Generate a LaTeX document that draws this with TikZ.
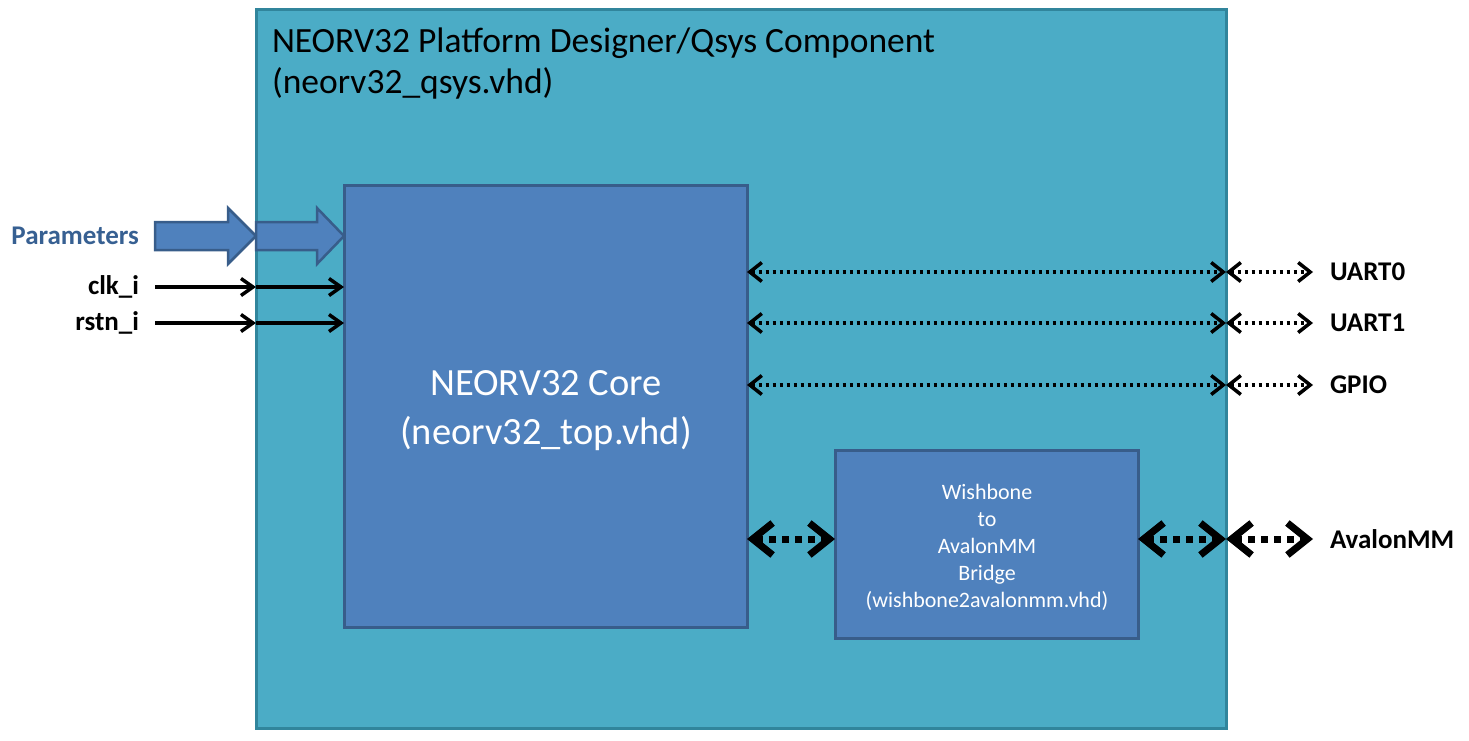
\documentclass[tikz,border=0pt]{standalone}
\usepackage{fontspec}
\setmainfont{Carlito}
\usetikzlibrary{arrows.meta}

\definecolor{qsysfill}{HTML}{4BACC6}
\definecolor{qsysline}{HTML}{31859C}
\definecolor{corefill}{HTML}{4F81BD}
\definecolor{coreline}{HTML}{385D8A}
\definecolor{paramtext}{HTML}{376092}

\begin{document}
\begin{tikzpicture}
  [
    x = 1pt, y = -1pt,
    every node/.style = {inner sep=0pt, outer sep=0pt},
    outerbox/.style = {draw=qsysline, fill=qsysfill, line width=3pt, anchor=north west},
    blockbox/.style = {draw=coreline, fill=corefill, line width=3pt, anchor=north west,
                       text=white, align=center},
    siglabel/.style = {font=\fontsize{27}{32}\selectfont\bfseries},
    sigline/.style = {line width=3.5pt, -{Straight Barb[length=12pt, width=17pt]}},
    dotsig/.style = {line width=3.5pt, dash pattern=on 3.5pt off 3.5pt,
                     {Straight Barb[length=12pt, width=19pt]}-{Straight Barb[length=12pt, width=19pt]}},
    bussig/.style = {line width=7pt, dash pattern=on 7pt off 6pt,
                     {Straight Barb[length=20pt, width=32pt]}-{Straight Barb[length=20pt, width=32pt]}},
    paramarrow/.style = {draw=coreline, fill=corefill, line width=2.5pt, line join=miter}
  ]
  \useasboundingbox (0,0) rectangle (1469,740);

  % component frame and blocks
  \node[outerbox, minimum width=970pt, minimum height=719pt] (qsys) at (256,9) {};
  \node[anchor=base west, align=left, font=\fontsize{35.5}{41}\selectfont] (title) at (272,93)
    {NEORV32 Platform Designer/Qsys Component\\(neorv32\_qsys.vhd)};
  \node[blockbox, minimum width=403pt, minimum height=442pt] (core) at (344,185) {};
  \node[text=white, align=center, font=\fontsize{38.5}{49}\selectfont] (coretext) at (546,411)
    {NEORV32 Core\\(neorv32\_top.vhd)};
  \node[blockbox, minimum width=303pt, minimum height=188pt] (bridge) at (835,450) {};
  \node[text=white, align=center, font=\fontsize{22}{27}\selectfont] (bridgetext) at (987,547)
    {Wishbone\\to\\AvalonMM\\Bridge\\(wishbone2avalonmm.vhd)};

  % inputs
  \node[siglabel, text=paramtext, anchor=east] (params) at (139,236) {Parameters};
  \node[siglabel, anchor=east] (clk) at (139,287) {clk\_i};
  \node[siglabel, anchor=east] (rstn) at (139,323) {rstn\_i};

  \draw[paramarrow] (155,222) -- (228,222) -- (228,208) -- (qsys.west |- params.east)
    -- (228,264) -- (228,250) -- (155,250) -- cycle;
  \draw[paramarrow] (qsys.west |- 0,222) -- (317,222) -- (317,208) -- (core.west |- params.east)
    -- (317,264) -- (317,250) -- (qsys.west |- 0,250) -- cycle;

  \foreach \sig/\y in {clk/287, rstn/323} {
    \coordinate (\sig-in) at (155,\y);
    \draw[sigline] (\sig-in) -- (qsys.west |- \sig-in);
    \draw[sigline] (qsys.west |- \sig-in) -- (core.west |- \sig-in);
  }

  % outputs
  \foreach \sig/\lbl/\y in {uart0/UART0/272, uart1/UART1/323, gpio/GPIO/385} {
    \node[siglabel, anchor=west, inner xsep=17pt] (\sig) at (1313,\y) {\lbl};
    \draw[dotsig] (core.east |- \sig.west) -- (qsys.east |- \sig.west);
    \draw[dotsig] (qsys.east |- \sig.west) -- (\sig.west);
  }

  \node[siglabel, anchor=west, inner xsep=17pt] (avalon) at (1313,539) {AvalonMM};
  \draw[bussig] (core.east |- avalon.west) -- (bridge.west |- avalon.west);
  \draw[bussig] (bridge.east |- avalon.west) -- (qsys.east |- avalon.west);
  \draw[bussig] (qsys.east |- avalon.west) -- (avalon.west);
\end{tikzpicture}
\end{document}
